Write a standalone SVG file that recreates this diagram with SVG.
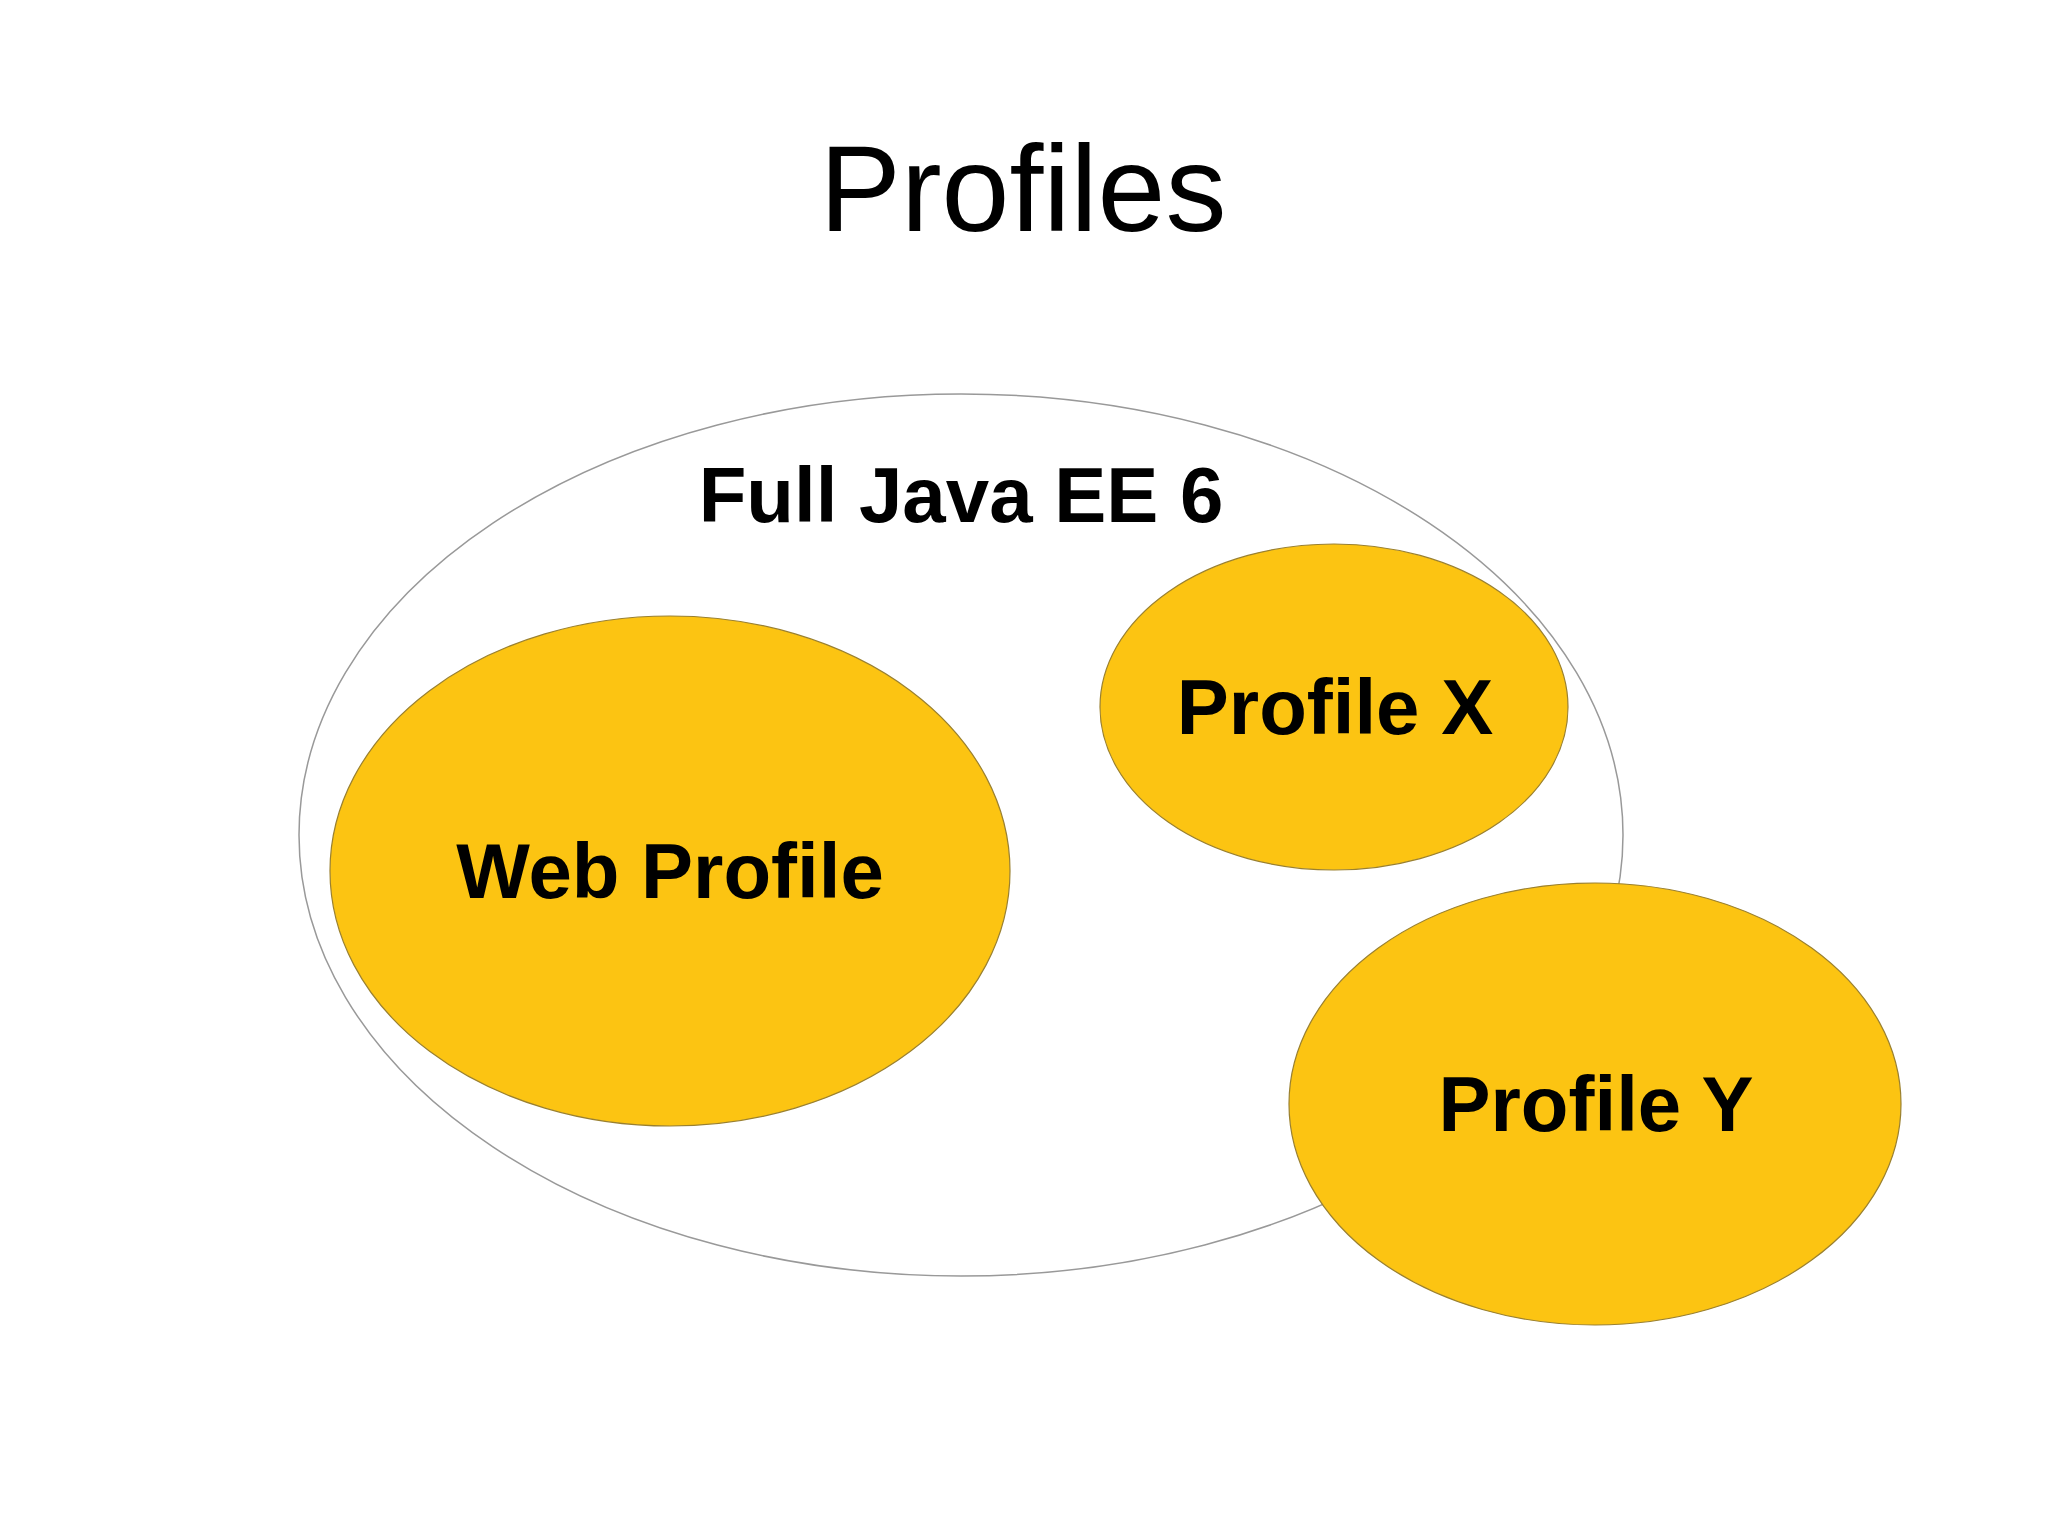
<svg xmlns="http://www.w3.org/2000/svg" width="2048" height="1535" viewBox="0 0 2048 1535">
<style>
.lbl{font-family:"Liberation Sans",Arial,sans-serif;font-weight:bold;font-size:78px;text-anchor:middle;fill:#000}
.prof{fill:#FCC412;stroke:#9a8030;stroke-width:1.2}
</style>
<rect width="2048" height="1535" fill="#fff"/>
<text x="1023" y="231" font-family="Liberation Sans, Arial, sans-serif" font-size="122" text-anchor="middle" fill="#000">Profiles</text>
<g id="full">
<ellipse cx="961" cy="835" rx="662" ry="441" fill="#fff" stroke="#999" stroke-width="1.5"/>
<text class="lbl" x="961" y="522">Full Java EE 6</text>
</g>
<g id="web">
<ellipse class="prof" cx="670" cy="871" rx="340" ry="255"/>
<text class="lbl" x="670" y="898">Web Profile</text>
</g>
<g id="px">
<ellipse class="prof" cx="1334" cy="707" rx="234" ry="163"/>
<text class="lbl" x="1335" y="734">Profile X</text>
</g>
<g id="py">
<ellipse class="prof" cx="1595" cy="1104" rx="306" ry="221"/>
<text class="lbl" x="1596" y="1131">Profile Y</text>
</g>
<g id="connectors"/>
</svg>
